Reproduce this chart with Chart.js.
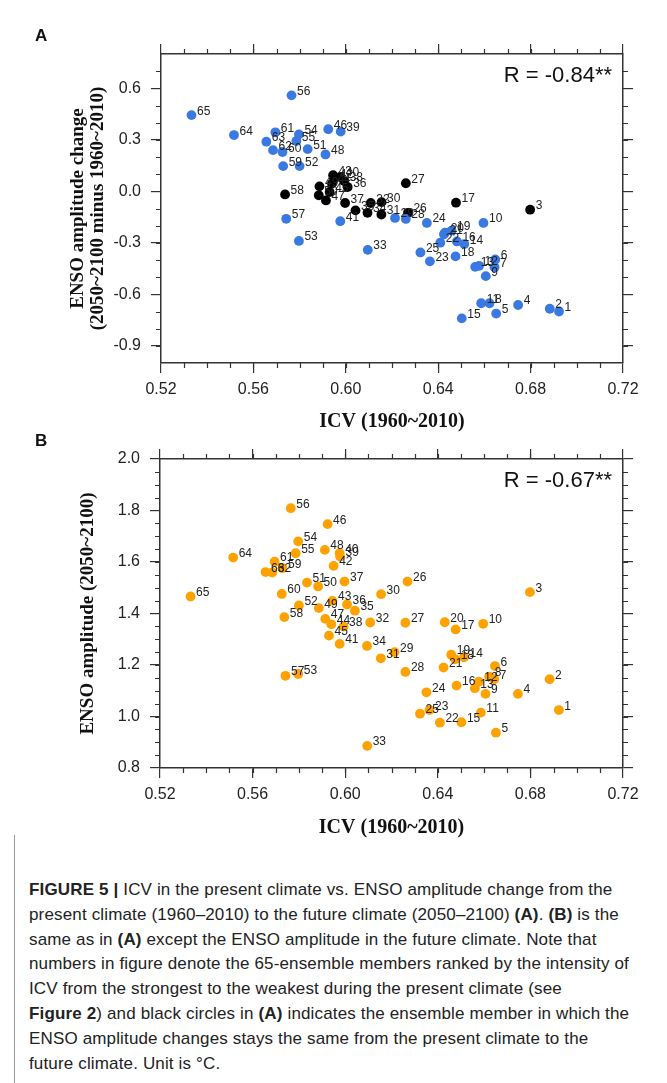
<!DOCTYPE html>
<html>
<head>
<meta charset="utf-8">
<script src="https://cdn.jsdelivr.net/npm/chart.js@4.4.1/dist/chart.umd.min.js"></script>
<style>
  body { margin: 0; background: #fff; width: 667px; height: 1083px; position: relative; overflow: hidden; }
  canvas { position: absolute; left: 0; }
  .plab { position: absolute; font: bold 17px "Liberation Sans", Arial, sans-serif; color: #111; line-height: 1; }
  .caption { position: absolute; left: 29px; top: 878px; font: 17px "Liberation Sans", Arial, sans-serif;
             line-height: 24.8px; letter-spacing: 0.15px; color: #222; white-space: nowrap; }
  .frame { position: absolute; left: 14px; top: 835px; width: 0; height: 250px; border-left: 1.5px solid #999; }
</style>
</head>
<body>
<canvas id="chartA" width="667" height="440" style="top:0"></canvas>
<canvas id="chartB" width="667" height="420" style="top:430px"></canvas>
<div class="plab" style="left:35px;top:27px">A</div>
<div class="plab" style="left:35px;top:432px">B</div>
<div class="frame"></div>
<div class="caption">
<b>FIGURE 5 |</b> ICV in the present climate vs. ENSO amplitude change from the<br>
present climate (1960–2010) to the future climate (2050–2100) <b>(A)</b>. <b>(B)</b> is the<br>
same as in <b>(A)</b> except the ENSO amplitude in the future climate. Note that<br>
numbers in figure denote the 65-ensemble members ranked by the intensity of<br>
ICV from the strongest to the weakest during the present climate (see<br>
<b>Figure 2</b>) and black circles in <b>(A)</b> indicates the ensemble member in which the<br>
ENSO amplitude changes stays the same from the present climate to the<br>
future climate. Unit is °C.
</div>
<script>
// ICV (1960~2010) of members 1..65
const icv = [
  0.6923, 0.6883, 0.6798, 0.6746, 0.6651, 0.6647, 0.6644, 0.6622, 0.6606, 0.6596,
  0.6586, 0.6577, 0.6560, 0.6513, 0.6502, 0.6481, 0.6477, 0.6475, 0.6458, 0.6430,
  0.6425, 0.6409, 0.6364, 0.6351, 0.6323, 0.6269, 0.6260, 0.6260, 0.6213, 0.6155,
  0.6154, 0.6108, 0.6095, 0.6094, 0.6042, 0.6008, 0.5997, 0.5993, 0.5978, 0.5976,
  0.5976, 0.5950, 0.5945, 0.5940, 0.5930, 0.5924, 0.5914, 0.5912, 0.5886, 0.5883,
  0.5835, 0.5800, 0.5797, 0.5797, 0.5786, 0.5765, 0.5742, 0.5737, 0.5729, 0.5726,
  0.5695, 0.5685, 0.5656, 0.5516, 0.5332
];
// ENSO amplitude change (2050~2100 minus 1960~2010)
const ampChange = [
  -0.700, -0.684, -0.107, -0.662, -0.712, -0.397, -0.442, -0.652, -0.494, -0.184,
  -0.652, -0.434, -0.440, -0.307, -0.740, -0.292, -0.066, -0.379, -0.229, -0.240,
  -0.250, -0.299, -0.408, -0.184, -0.356, -0.125, 0.047, -0.161, -0.155, -0.063,
  -0.135, -0.068, -0.341, -0.125, -0.111, 0.025, -0.068, 0.060, 0.348, 0.084,
  -0.174, 0.074, 0.094, 0.045, -0.004, 0.362, -0.053, 0.215, 0.029, -0.023,
  0.246, 0.147, -0.289, 0.332, 0.293, 0.559, -0.160, -0.018, 0.147, 0.229,
  0.344, 0.240, 0.289, 0.328, 0.444
];
// ENSO amplitude (2050~2100)
const ampFuture = [
  1.025, 1.145, 1.483, 1.088, 0.937, 1.196, 1.145, 1.155, 1.088, 1.360,
  1.015, 1.135, 1.110, 1.230, 0.978, 1.120, 1.338, 1.222, 1.240, 1.366,
  1.190, 0.976, 1.025, 1.094, 1.011, 1.524, 1.364, 1.173, 1.250, 1.475,
  1.226, 1.365, 0.886, 1.274, 1.411, 1.435, 1.524, 1.349, 1.621, 1.634,
  1.282, 1.585, 1.449, 1.358, 1.314, 1.747, 1.379, 1.647, 1.421, 1.505,
  1.520, 1.431, 1.165, 1.680, 1.634, 1.809, 1.158, 1.386, 1.576, 1.476,
  1.601, 1.559, 1.561, 1.617, 1.466
];
// members whose ENSO amplitude stays the same (black in A)
const sameMembers = [3, 17, 26, 27, 30, 31, 32, 34, 35, 36, 37, 38, 40, 42, 43, 44, 45, 47, 49, 50, 58];

const xTicks = [0.52, 0.56, 0.60, 0.64, 0.68, 0.72];
const yTicksA = [-0.9, -0.6, -0.3, 0.0, 0.3, 0.6];
const yTicksB = [0.8, 1.0, 1.2, 1.4, 1.6, 1.8, 2.0];

const members = icv.map((_, i) => i + 1);
const axisColor = '#333';
const sans = '"Liberation Sans", Arial, sans-serif';
const serif = '"Liberation Serif", "Times New Roman", serif';

function points(vals, keep) {
  return members.filter(keep).map(m => ({ x: icv[m - 1], y: vals[m - 1], id: m }));
}

const pointLabels = {
  id: 'pointLabels',
  afterDatasetsDraw(chart) {
    const ctx = chart.ctx;
    ctx.save();
    ctx.font = '12px ' + sans;
    ctx.fillStyle = '#222';
    ctx.textBaseline = 'alphabetic';
    chart.data.datasets.forEach((ds, i) => {
      chart.getDatasetMeta(i).data.forEach((el, j) => {
        ctx.fillText(String(ds.data[j].id), el.x + 5.5, el.y - 0.5);
      });
    });
    ctx.restore();
  }
};

const rText = {
  id: 'rText',
  afterDraw(chart, args, opts) {
    const { ctx, chartArea } = chart;
    ctx.save();
    ctx.font = '22px ' + sans;
    ctx.fillStyle = '#111';
    ctx.textAlign = 'right';
    ctx.textBaseline = 'alphabetic';
    ctx.fillText(opts.text, chartArea.right - 11, chartArea.top + 27.5);
    ctx.restore();
  }
};

// minor ticks on all four sides, outward
const minorTicks = {
  id: 'minorTicks',
  afterDraw(chart, args, opts) {
    const { ctx, chartArea: a, scales: { x, y } } = chart;
    ctx.save();
    ctx.strokeStyle = axisColor;
    ctx.lineWidth = 1.2;
    ctx.beginPath();
    const nx = Math.round((x.max - x.min) / opts.xStep);
    for (let k = 1; k < nx; k++) {
      const px = Math.round(x.getPixelForValue(x.min + k * opts.xStep)) + 0.5;
      ctx.moveTo(px, a.bottom); ctx.lineTo(px, a.bottom + 5);
      ctx.moveTo(px, a.top); ctx.lineTo(px, a.top - 5);
    }
    const ny = Math.round((y.max - y.min) / opts.yStep);
    for (let k = 1; k < ny; k++) {
      const py = Math.round(y.getPixelForValue(y.min + k * opts.yStep)) + 0.5;
      ctx.moveTo(a.left, py); ctx.lineTo(a.left - 5, py);
      ctx.moveTo(a.right, py); ctx.lineTo(a.right + 5, py);
    }
    ctx.stroke();
    ctx.restore();
  }
};

function makeChart(id, o) {
  const setTicks = vals => s => { s.ticks = vals.map(v => ({ value: v })); };
  const base = () => ({
    type: 'linear',
    grid: { drawOnChartArea: false, color: axisColor, tickLength: 10, lineWidth: 1.2 },
    border: { display: true, color: axisColor, width: 1.5 }
  });
  return new Chart(document.getElementById(id), {
    type: 'scatter',
    data: { datasets: o.datasets },
    options: {
      responsive: false,
      animation: false,
      devicePixelRatio: 1,
      layout: { padding: 0 },
      elements: { point: { radius: 4.9, hoverRadius: 4.9, borderWidth: 0 } },
      plugins: {
        legend: { display: false },
        tooltip: { enabled: false },
        rText: { text: o.r },
        minorTicks: { xStep: 0.01, yStep: o.yMinor }
      },
      scales: {
        x: Object.assign(base(), {
          position: 'bottom', min: 0.52, max: 0.72,
          afterBuildTicks: setTicks(xTicks),
          afterFit: s => { s.height = o.bottom; },
          ticks: { callback: v => v.toFixed(2), font: { family: sans, size: 16 }, color: '#222', padding: 7, maxRotation: 0, autoSkip: false },
          title: { display: true, text: 'ICV (1960~2010)', color: '#111',
                   font: { family: serif, size: 20, weight: 'bold', lineHeight: 1.0 }, padding: { top: 0, bottom: o.xTitlePad } }
        }),
        x2: Object.assign(base(), {
          position: 'top', min: 0.52, max: 0.72,
          afterBuildTicks: setTicks(xTicks),
          afterFit: s => { s.height = o.top; },
          ticks: { display: false }
        }),
        y: Object.assign(base(), {
          position: 'left', min: o.yMin, max: o.yMax,
          afterBuildTicks: setTicks(o.yTicks),
          afterFit: s => { s.width = o.left; },
          ticks: { callback: v => v.toFixed(1), font: { family: sans, size: 16 }, color: '#222', padding: 10, autoSkip: false },
          title: { display: true, text: o.yTitle, color: '#111',
                   font: { family: serif, size: 19, weight: 'bold', lineHeight: 1.05 }, padding: { top: o.yTitlePad, bottom: 0 } }
        }),
        y2: Object.assign(base(), {
          position: 'right', min: o.yMin, max: o.yMax,
          afterBuildTicks: setTicks(o.yTicks),
          afterFit: s => { s.width = 44; },
          ticks: { display: false }
        })
      }
    },
    plugins: [minorTicks, pointLabels, rText]
  });
}

makeChart('chartA', {
  datasets: [
    { data: points(ampChange, m => !sameMembers.includes(m)), backgroundColor: '#3a78e2' },
    { data: points(ampChange, m => sameMembers.includes(m)), backgroundColor: '#000' }
  ],
  yMin: -1.0, yMax: 0.8, yTicks: yTicksA, yMinor: 0.1,
  yTitle: ['ENSO amplitude change', '(2050~2100 minus 1960~2010)'],
  r: 'R = -0.84**',
  top: 54, bottom: 77, left: 161, xTitlePad: 8, yTitlePad: 68
});

makeChart('chartB', {
  datasets: [
    { data: points(ampFuture, () => true), backgroundColor: '#ffa200' }
  ],
  yMin: 0.8, yMax: 2.0, yTicks: yTicksB, yMinor: 0.05,
  yTitle: 'ENSO amplitude (2050~2100)',
  r: 'R = -0.67**',
  top: 29, bottom: 82, left: 160, xTitlePad: 12, yTitlePad: 78
});
</script>
</body>
</html>
